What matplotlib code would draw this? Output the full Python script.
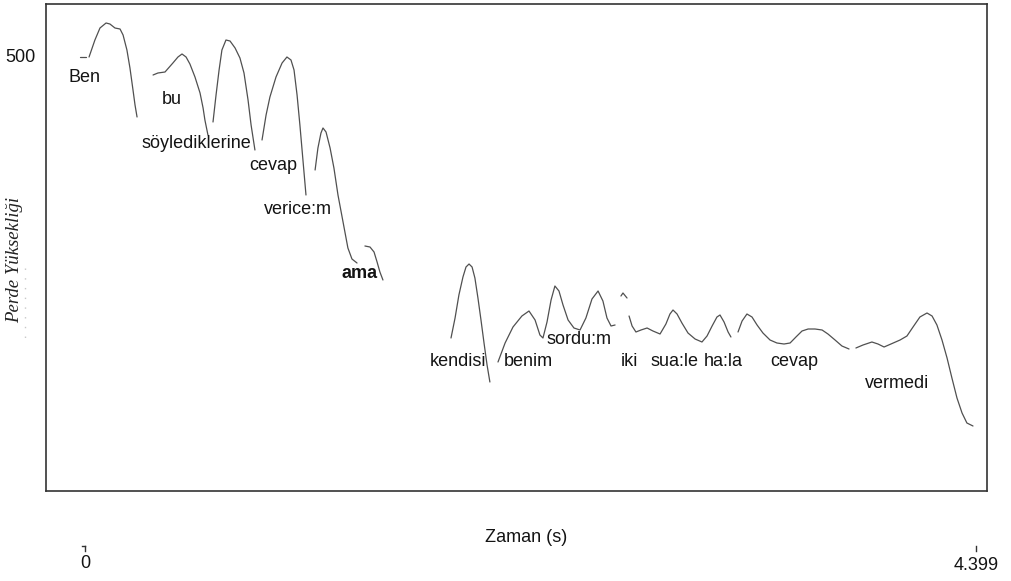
import matplotlib
matplotlib.use("Agg")
import matplotlib.pyplot as plt
from matplotlib.transforms import blended_transform_factory
from matplotlib.lines import Line2D

# ---- data: pitch contour segments (time in s, pitch value) ----
t_dash = [-0.025, 0.005]
f_dash = [500, 500]

t_ben = [0.020, 0.049, 0.074, 0.104, 0.123, 0.148, 0.173, 0.188, 0.207, 0.222, 0.237, 0.247, 0.257]
f_ben = [500, 517, 529, 534, 533, 529, 528, 522, 507, 489, 467, 452, 440]

t_bu = [0.336, 0.360, 0.395, 0.434, 0.459, 0.479, 0.499, 0.518, 0.543, 0.568, 0.583, 0.592, 0.607]
f_bu = [482, 484, 485, 494, 500, 503, 500, 493, 480, 464, 449, 437, 422]

t_soy = [0.632, 0.647, 0.662, 0.676, 0.696, 0.716, 0.741, 0.765, 0.785, 0.805, 0.820, 0.839]
f_soy = [435, 462, 487, 507, 517, 516, 509, 499, 484, 457, 432, 407]

t_cev1 = [0.874, 0.894, 0.913, 0.943, 0.973, 0.997, 1.017, 1.032, 1.047, 1.061, 1.076, 1.091]
f_cev1 = [417, 442, 460, 480, 494, 500, 497, 487, 462, 432, 397, 362]

t_ver = [1.136, 1.150, 1.165, 1.175, 1.190, 1.210, 1.229, 1.249, 1.274, 1.298, 1.318, 1.343]
f_ver = [387, 409, 424, 429, 425, 409, 389, 362, 335, 309, 298, 294]

t_ama = [1.382, 1.407, 1.427, 1.442, 1.456, 1.471]
f_ama = [311, 310, 305, 295, 285, 277]

t_ken = [1.807, 1.827, 1.846, 1.866, 1.881, 1.896, 1.911, 1.925, 1.940, 1.955, 1.970, 1.985, 1.999]
f_ken = [219, 239, 262, 280, 290, 293, 290, 279, 259, 237, 214, 192, 175]

t_ben2 = [2.039, 2.074, 2.113, 2.157, 2.192, 2.222, 2.246, 2.261, 2.281, 2.301, 2.320, 2.340,
          2.360, 2.385, 2.414, 2.444, 2.473, 2.503, 2.533, 2.557, 2.577, 2.597, 2.617]
f_ben2 = [195, 214, 230, 241, 246, 237, 222, 219, 235, 257, 271, 266,
          252, 237, 229, 227, 239, 258, 266, 256, 239, 231, 232]

t_iki = [2.646, 2.656, 2.676]
f_iki = [261, 264, 259]

t_sua = [2.686, 2.701, 2.720, 2.745, 2.775, 2.804, 2.839, 2.868, 2.888, 2.903, 2.923, 2.947,
         2.977, 3.012, 3.046, 3.071, 3.096, 3.120, 3.135, 3.155, 3.175, 3.189]
f_sua = [241, 231, 225, 227, 229, 226, 223, 233, 243, 247, 243, 234,
         224, 218, 215, 221, 231, 240, 242, 235, 225, 220]

t_cev2 = [3.224, 3.244, 3.268, 3.293, 3.318, 3.347, 3.382, 3.416, 3.451, 3.481, 3.510, 3.540,
          3.570, 3.604, 3.639, 3.668, 3.703, 3.737, 3.772]
f_cev2 = [225, 236, 243, 240, 232, 224, 217, 214, 213, 214, 220, 226,
          228, 228, 227, 223, 217, 211, 208]

t_verm = [3.806, 3.841, 3.885, 3.915, 3.945, 3.979, 4.024, 4.058, 4.088, 4.122, 4.157, 4.182,
          4.206, 4.231, 4.256, 4.280, 4.305, 4.330, 4.354, 4.384]
f_verm = [209, 212, 215, 213, 210, 213, 217, 221, 230, 240, 244, 241,
          232, 217, 199, 179, 159, 144, 134, 131]

segments = [(t_dash, f_dash), (t_ben, f_ben), (t_bu, f_bu), (t_soy, f_soy), (t_cev1, f_cev1),
            (t_ver, f_ver), (t_ama, f_ama), (t_ken, f_ken), (t_ben2, f_ben2), (t_iki, f_iki),
            (t_sua, f_sua), (t_cev2, f_cev2), (t_verm, f_verm)]

# word labels
words = ["Ben", "bu", "söylediklerine", "cevap", "verice:m", "ama", "kendisi", "benim",
         "sordu:m", "iki", "sua:le", "ha:la", "cevap", "vermedi"]
word_t = [0.000, 0.430, 0.548, 0.928, 1.052, 1.358, 1.842, 2.187, 2.439, 2.686, 2.908, 3.150, 3.500, 4.009]
word_f = [480, 457, 414, 392, 348, 283, 195, 195, 217, 195, 195, 195, 195, 174]
word_bold = [False, False, False, False, False, True, False, False, False, False, False, False, False, False]

t_min, t_max = 0, 4.399
y_tick = 500

# ---- figure ----
W, H = 1012, 581
fig = plt.figure(figsize=(W / 100, H / 100), dpi=100)
ax = fig.add_axes([46 / W, 1 - 491 / H, (987 - 46) / W, (491 - 4) / H])
ax.set_xlim(-0.1925, 4.4532)
ax.set_ylim(66, 553)

for t, f in segments:
    ax.plot(t, f, color="#505050", lw=0.9, solid_capstyle="round", solid_joinstyle="round")

font = "Liberation Sans"
for w, x, y, b in zip(words, word_t, word_f, word_bold):
    ax.text(x, y, w, ha="center", va="center", fontsize=13, family=font,
            color="#141414", fontweight="bold" if b else "normal")

for s in ax.spines.values():
    s.set_color("#333333")
    s.set_linewidth(1.2)
ax.set_xticks([])
ax.set_yticks([])

# y tick label
tr_y = blended_transform_factory(fig.transFigure, ax.transData)
fig.text(36 / W, y_tick, str(y_tick), transform=tr_y, ha="right", va="center",
         fontsize=13, family=font, color="#141414")

# y label
fig.text(15 / W, 1 - 260 / H, "Perde Yüksekliği", rotation=90, ha="center", va="center",
         fontsize=13.5, family="Liberation Serif", style="italic", color="#222222")
fig.add_artist(Line2D([25 / W, 25 / W], [1 - 268 / H, 1 - 345 / H], color="#c8c8c8",
                      lw=1.0, ls=(0, (1, 6))))

# x label and tick labels
fig.text(526 / W, 1 - 538 / H, "Zaman (s)", ha="center", va="center",
         fontsize=13, family=font, color="#141414")
tr_x = blended_transform_factory(ax.transData, fig.transFigure)
for tv, lab, ty in [(t_min, "0", 563), (t_max, "4.399", 565)]:
    fig.text(tv, 1 - ty / H, lab, transform=tr_x, ha="center", va="center",
             fontsize=13, family=font, color="#141414")
    fig.add_artist(Line2D([tv, tv], [1 - 546 / H, 1 - 551 / H], transform=tr_x,
                          color="#333333", lw=1.0))
fig.add_artist(Line2D([t_min - 0.015, t_min], [1 - 546 / H, 1 - 546 / H], transform=tr_x,
                      color="#333333", lw=1.0))

fig.savefig("out.png", dpi=100)
